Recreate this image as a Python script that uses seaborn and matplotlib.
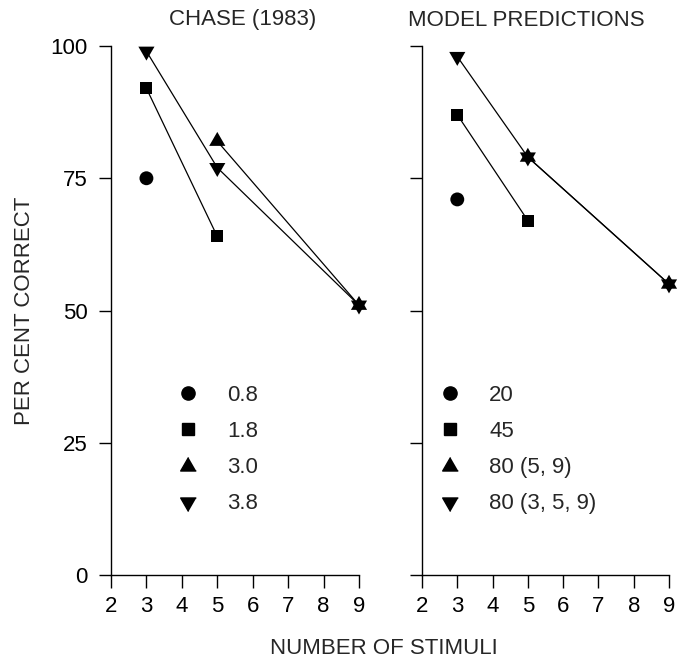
import numpy as np
import pandas as pd
import matplotlib
matplotlib.use("Agg")
import matplotlib.pyplot as plt
from matplotlib.lines import Line2D
import seaborn as sns

# ── data ────────────────────────────────────────────────────────────────────
chase_labels = ["0.8", "1.8", "3.0", "3.8"]
chase_x = [[3], [3, 5], [5, 9], [3, 5, 9]]
chase_y = [[75], [92, 64], [82, 51], [99, 77, 51]]

model_labels = ["20", "45", "80 (5, 9)", "80 (3, 5, 9)"]
model_x = [[3], [3, 5], [5, 9], [3, 5, 9]]
model_y = [[71], [87, 67], [79, 55], [98, 79, 55]]

x_ticks = [2, 3, 4, 5, 6, 7, 8, 9]
y_ticks = [0, 25, 50, 75, 100]

# centroid-centred equilateral triangles, so that ^ over v makes a star
TRI_UP = [(0, 1), (-0.866, -0.5), (0.866, -0.5)]
TRI_DOWN = [(0, -1), (-0.866, 0.5), (0.866, 0.5)]
marker_list = ["o", "s", TRI_UP, TRI_DOWN]
marker_area = [100, 74, 180, 180]
legend_ms = [9.5, 8.5, 13, 13]


def to_frame(labels, xs, ys):
    rows = []
    for lab, xx, yy in zip(labels, xs, ys):
        for a, b in zip(xx, yy):
            rows.append({"label": lab, "x": a, "y": b})
    return pd.DataFrame(rows)


sns.set_style("ticks")
plt.rcParams["font.family"] = ["Liberation Sans", "DejaVu Sans"]
FS = 16

fig = plt.figure(figsize=(6.78, 6.62), dpi=100)
ax_l = fig.add_axes([111 / 678, 1 - 575 / 662, 248 / 678, 529 / 662])
ax_r = fig.add_axes([422 / 678, 1 - 575 / 662, 247 / 678, 529 / 662])

panels = [
    (ax_l, chase_labels, chase_x, chase_y, 0.264, 1.3),
    (ax_r, model_labels, model_x, model_y, 0.067, 1.28),
]

for ax, labels, xs, ys, leg_x, pad in panels:
    df = to_frame(labels, xs, ys)
    # connecting lines
    sns.lineplot(
        data=df, x="x", y="y", units="label", color="black", linewidth=0.9,
        estimator=None, sort=False, legend=False, ax=ax,
    )
    # symbols
    sns.scatterplot(
        data=df, x="x", y="y", style="label", style_order=labels,
        markers=dict(zip(labels, marker_list)),
        size="label", size_order=labels, sizes=dict(zip(labels, marker_area)),
        color="black", linewidth=0, clip_on=False, legend=False, ax=ax,
        zorder=3,
    )
    ax.set_xlim(2, 9)
    ax.set_ylim(0, 100)
    ax.set_xticks(x_ticks)
    ax.set_yticks(y_ticks)
    ax.set_xlabel("")
    ax.set_ylabel("")
    ax.tick_params(direction="out", length=9, width=1, labelsize=FS,
                   color="black", labelcolor="black")
    ax.tick_params(axis="y", pad=8)
    ax.tick_params(axis="x", pad=6)
    for s in ["left", "bottom"]:
        ax.spines[s].set_linewidth(1)
        ax.spines[s].set_color("black")
    sns.despine(ax=ax)

    handles = [Line2D([], [], marker=m, color="black", linestyle="none",
                      markersize=ms) for m, ms in zip(marker_list, legend_ms)]
    ax.legend(handles, labels, loc="upper left", bbox_to_anchor=(leg_x, 0.359),
              frameon=False, fontsize=FS, handlelength=1.0,
              handletextpad=pad, labelspacing=0.68, borderpad=0,
              borderaxespad=0)

ax_r.set_yticklabels([])

fig.text(243 / 678, 1 - 20 / 662, "CHASE (1983)", ha="center", va="center",
         fontsize=FS)
fig.text(526 / 678, 1 - 20 / 662, "MODEL PREDICTIONS", ha="center",
         va="center", fontsize=FS)
fig.text(25 / 678, 1 - 311 / 662, "PER CENT CORRECT", ha="center",
         va="center", rotation=90, fontsize=FS)
fig.text(384 / 678, 1 - 648 / 662, "NUMBER OF STIMULI", ha="center",
         va="center", fontsize=FS)

fig.savefig("out.png", dpi=100)
